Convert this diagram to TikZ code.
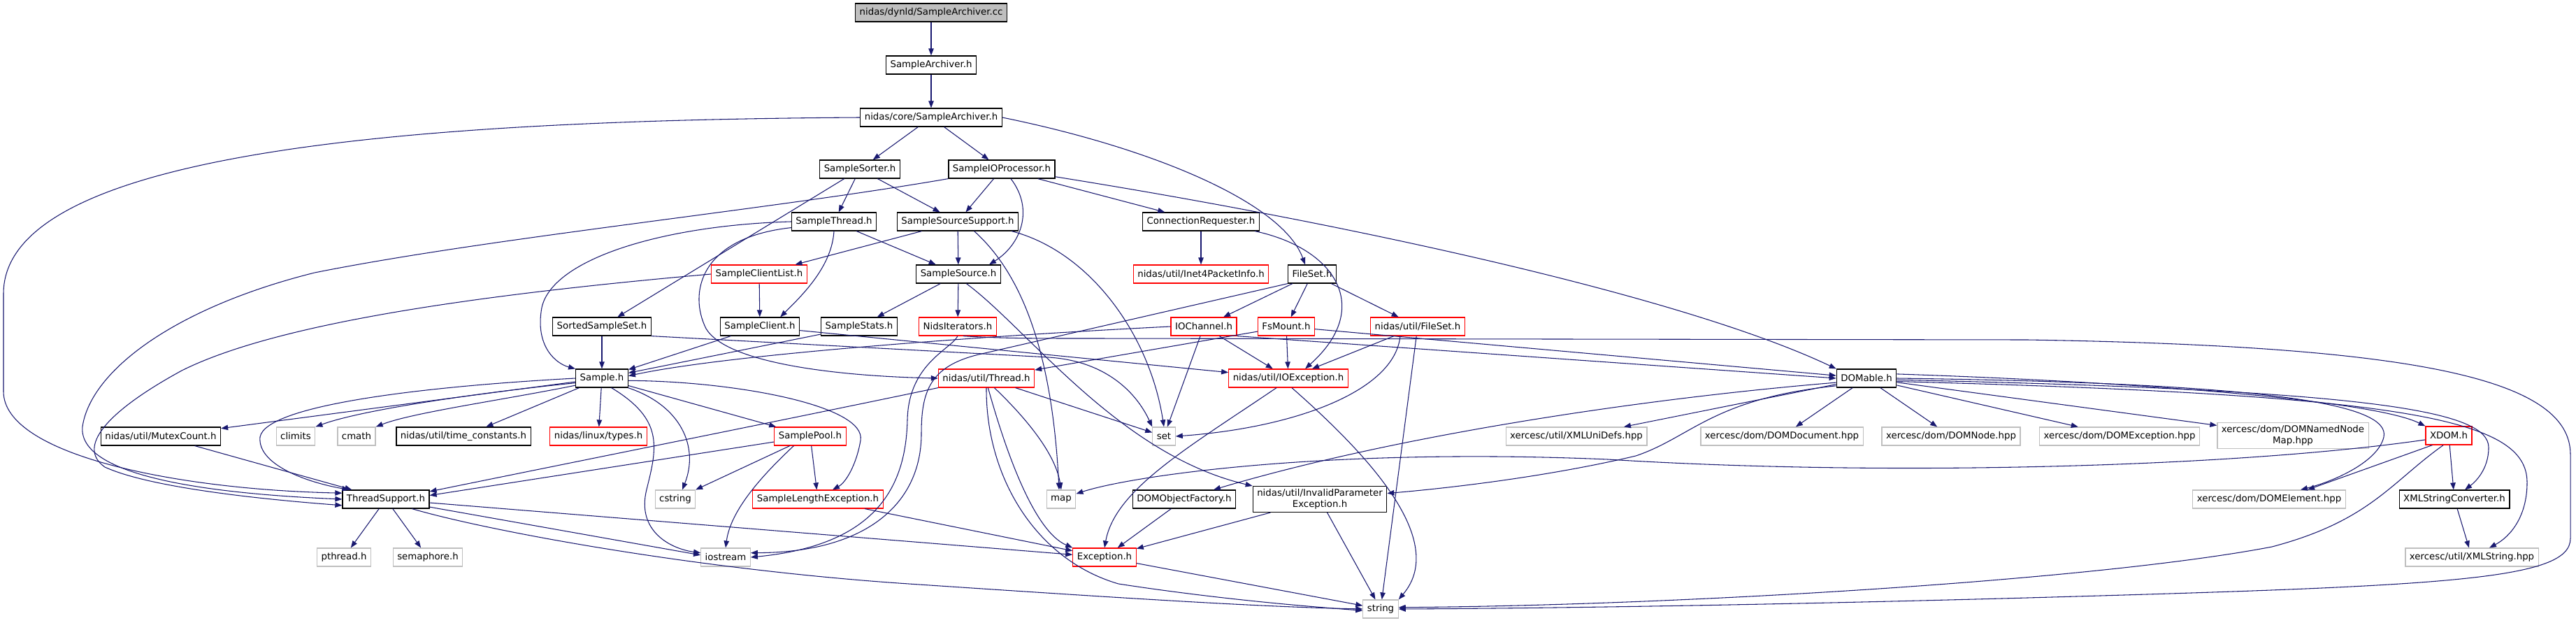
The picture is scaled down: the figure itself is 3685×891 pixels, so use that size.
\documentclass[tikz,border=0pt]{standalone}
\usepackage{fontspec}
\setmainfont{DejaVu Sans}
\usetikzlibrary{arrows.meta,calc}
\definecolor{edgeblue}{HTML}{191970}
\definecolor{truncred}{HTML}{FF0000}
\definecolor{extgrey}{HTML}{BFBFBF}
\definecolor{rootgrey}{HTML}{BFBFBF}
\tikzset{
  >={Triangle[length=7.5pt,width=5.6pt]},
  incfile/.style={draw=black, fill=white, line width=0.9pt, inner xsep=4.5pt,
    inner ysep=3pt, minimum height=19.5pt, align=center,
    font=\fontsize{10pt}{12pt}\selectfont},
  rootfile/.style={incfile, fill=rootgrey},
  truncfile/.style={incfile, draw=truncred},
  extfile/.style={incfile, draw=extgrey},
  dep/.style={->, draw=edgeblue, line width=0.8pt}
}

\begin{document}
\begin{tikzpicture}[x=0.75pt,y=-0.75pt]
\useasboundingbox (0,0) rectangle (3685,891);

% ranks 0-5
\node[rootfile] (sacc) at (1332,18) {nidas/dynld/SampleArchiver.cc};
\node[incfile] (sah) at (1332,93) {SampleArchiver.h};
\node[incfile] (coresa) at (1332,168) {nidas/core/SampleArchiver.h};
\node[incfile] (sorter) at (1230,242) {SampleSorter.h};
\node[incfile] (ioproc) at (1433,242) {SampleIOProcessor.h};
\node[incfile] (sthread) at (1193,317) {SampleThread.h};
\node[incfile] (sss) at (1370,317) {SampleSourceSupport.h};
\node[incfile] (connreq) at (1718,317) {ConnectionRequester.h};
\node[truncfile] (scl) at (1086,392) {SampleClientList.h};
\node[incfile] (ssource) at (1371,392) {SampleSource.h};
\node[truncfile] (inet) at (1718,392) {nidas/util/Inet4PacketInfo.h};
\node[incfile] (fileset) at (1877,392) {FileSet.h};

% ranks 6-7
\node[incfile] (sortedss) at (861,467) {SortedSampleSet.h};
\node[incfile] (sclient) at (1087,467) {SampleClient.h};
\node[incfile] (sstats) at (1229,467) {SampleStats.h};
\node[truncfile] (nidsit) at (1370,467) {NidsIterators.h};
\node[truncfile] (iochan) at (1722,467) {IOChannel.h};
\node[truncfile] (fsmount) at (1840,467) {FsMount.h};
\node[truncfile] (ufileset) at (2028,467) {nidas/util/FileSet.h};
\node[incfile] (sample) at (861,541) {Sample.h};
\node[truncfile] (uthread) at (1411,541) {nidas/util/Thread.h};
\node[truncfile] (ioexc) at (1843,541) {nidas/util/IOException.h};
\node[incfile] (domable) at (2670,541) {DOMable.h};

% rank 8
\node[incfile] (mutex) at (230,624) {nidas/util/MutexCount.h};
\node[incfile] (timec) at (663,624) {nidas/util/time\_constants.h};
\node[truncfile] (ltypes) at (856,624) {nidas/linux/types.h};
\node[truncfile] (spool) at (1159,624) {SamplePool.h};
\foreach \x/\name in {423/climits,510/cmath,1665/set}
  \node[extfile] (\name) at (\x,624) {\name};
\node[extfile] (unidefs) at (2255,624) {xercesc/util/XMLUniDefs.hpp};
\node[extfile] (domdoc) at (2549,624) {xercesc/dom/DOMDocument.hpp};
\node[extfile] (domnode) at (2791,624) {xercesc/dom/DOMNode.hpp};
\node[extfile] (domexc) at (3032,624) {xercesc/dom/DOMException.hpp};
\node[extfile] (domnnm) at (3280,623) {xercesc/dom/DOMNamedNode\\Map.hpp};
\node[truncfile] (xdom) at (3503,623) {XDOM.h};

% ranks 9-11
\node[incfile] (tsupport) at (552,714) {ThreadSupport.h};
\node[extfile] (cstring) at (966,714) {cstring};
\node[truncfile] (sle) at (1170,714) {SampleLengthException.h};
\node[extfile] (map) at (1518,714) {map};
\node[incfile] (domof) at (1694,714) {DOMObjectFactory.h};
\node[incfile] (ipe) at (1888,714) {nidas/util/InvalidParameter\\Exception.h};
\node[extfile] (domelem) at (3246,714) {xercesc/dom/DOMElement.hpp};
\node[incfile] (xmlsc) at (3511,714) {XMLStringConverter.h};
\foreach \x/\name/\lab in {492/pthread/pthread.h,612/semaph/semaphore.h,1038/iostream/iostream}
  \node[extfile] (\name) at (\x,797) {\lab};
\node[truncfile] (exc) at (1580,797) {Exception.h};
\node[extfile] (xmlstr) at (3536,797) {xercesc/util/XMLString.hpp};
\node[extfile] (string) at (1975,871) {string};

% straight includes
\foreach \a/\b in {sacc/sah,sah/coresa,coresa/sorter,coresa/ioproc,
  sorter/sortedss,sorter/sthread,sorter/sss,ioproc/sss,ioproc/connreq,
  sthread/ssource,sss/scl,sss/ssource,connreq/inet,scl/sclient,
  ssource/sstats,ssource/nidsit,fileset/iochan,fileset/fsmount,fileset/ufileset,
  sortedss/sample,sclient/sample,sclient/ioexc,sstats/sample,
  iochan/ioexc,iochan/set,fsmount/uthread,fsmount/ioexc,fsmount/domable,
  ufileset/ioexc,ufileset/string,sample/mutex,sample/timec,sample/ltypes,sample/spool,
  uthread/set,mutex/tsupport,spool/cstring,spool/sle,tsupport/pthread,tsupport/semaph,
  tsupport/exc,sle/exc,domof/exc,ipe/exc,ipe/string,exc/string,
  domable/unidefs,domable/domdoc,domable/domnode,domable/domexc,domable/domnnm,xmlsc/xmlstr}
  \draw[dep] (\a) -- (\b);
\draw[dep] (iochan.south east) -- (domable.west);

% upper curves
\draw[dep] (coresa.east) .. controls (1650,212) and (1835,290) .. ($(fileset.north)+(-10,0)$);
\draw[dep] (coresa.west) .. controls (600,172) and (5,215) .. (5,420) -- (5,560)
  .. controls (5,650) and (250,700) .. (tsupport.172);
\draw[dep] (ioproc.south west) .. controls (1100,300) and (700,340) .. (450,390)
  .. controls (250,440) and (130,530) .. (118,610) .. controls (110,690) and (350,708) .. (tsupport.west);
\draw[dep] (scl.west) .. controls (700,420) and (400,460) .. (260,530)
  .. controls (150,590) and (110,640) .. (150,668) .. controls (220,700) and (400,716) .. (tsupport.188);
\draw[dep] (ioproc.-8) .. controls (1900,315) and (2400,420) .. (domable.north west);
\draw[dep] ($(ioproc.south)+(13,0)$) .. controls (1480,300) and (1460,350) .. ($(ssource.north)+(44,0)$);
\draw[dep] (sthread.south) .. controls (1190,380) and (1150,420) .. (sclient.25);
\draw[dep] (sthread.west) .. controls (950,322) and (790,370) .. (775,440)
  .. controls (765,495) and (795,520) .. (sample.north west);
\draw[dep] (sthread.188) .. controls (1000,340) and (985,420) .. (1010,470)
  .. controls (1040,520) and (1200,538) .. (uthread.west);
\draw[dep] (sss.-30) .. controls (1460,390) and (1505,500) .. ($(map.north)+(-3,0)$);
\draw[dep] (sss.-10) .. controls (1560,360) and (1645,480) .. (set.north);
\draw[dep] (connreq.-10) .. controls (1910,355) and (1965,440) .. ($(ioexc.north)+(24,0)$);
\draw[dep] (ssource.-50) .. controls (1470,470) and (1600,650) .. (ipe.north west);
\draw[dep] (fileset.south west) -- (1400,507) .. controls (1330,524) and (1318,560) .. (1318,620)
  .. controls (1318,720) and (1240,790) .. (iostream.10);
\draw[dep] (sortedss.south east) -- (1500,511) .. controls (1580,516) and (1625,560) .. (set.north west);
\draw[dep] (iochan.west) .. controls (1450,478) and (1050,505) .. (sample.5);
\draw[dep] ($(ufileset.south)+(-25,0)$) .. controls (1995,560) and (1850,612) .. (set.east);
\draw[dep] (nidsit.south) .. controls (1360,500) and (1300,520) .. (1298,600)
  .. controls (1296,700) and (1250,780) .. (iostream.east);
\draw[dep] (nidsit.-60) .. controls (1430,484) and (1480,484) .. (1560,484) -- (2900,486)
  .. controls (3450,495) and (3677,540) .. (3677,650) -- (3677,770)
  .. controls (3677,830) and (3500,838) .. (2900,855) .. controls (2500,866) and (2200,870) .. (string.east);

% Sample.h and below
\draw[dep] (sample.190) .. controls (700,560) and (520,585) .. (climits.north east);
\draw[dep] (sample.195) .. controls (720,572) and (590,590) .. (cmath.north east);
\draw[dep] (sample.west) .. controls (600,553) and (380,580) .. (372,625)
  .. controls (368,665) and (440,690) .. ($(tsupport.north west)+(10,0)$);
\draw[dep] (sample.-20) .. controls (975,580) and (1000,640) .. ($(cstring.north)+(10,0)$);
\draw[dep] (sample.-45) .. controls (950,600) and (940,640) .. (925,700)
  .. controls (910,760) and (960,785) .. (iostream.170);
\draw[dep] (sample.-5) .. controls (1050,545) and (1240,580) .. (1231,630)
  .. controls (1225,665) and (1210,690) .. ($(sle.north)+(21,0)$);
\draw[dep] (uthread.south west) .. controls (1150,595) and (800,665) .. (tsupport.10);
\draw[dep] (uthread.-50) .. controls (1470,600) and (1510,650) .. (map.north);
\draw[dep] (uthread.-80) .. controls (1440,650) and (1480,760) .. (exc.north west);
\draw[dep] (uthread.south) .. controls (1410,680) and (1480,800) .. (1600,835)
  .. controls (1750,858) and (1880,868) .. (string.185);
\draw[dep] ($(ioexc.south)+(-17,0)$) .. controls (1700,640) and (1595,700) .. (exc.north);
\draw[dep] (ioexc.-70) .. controls (1945,640) and (2075,770) .. (string.north east);
\draw[dep] (spool) -- (tsupport.5);
\draw[dep] (spool.-150) .. controls (1090,680) and (1045,730) .. (iostream.north);
\draw[dep] (tsupport) -- (iostream.175);
\draw[dep] (tsupport.-20) .. controls (700,760) and (1000,815) .. (1300,835)
  .. controls (1600,855) and (1800,868) .. (string.west);

% DOMable.h fan and XDOM.h
\draw[dep] (domable.8) .. controls (3100,548) and (3400,575) .. (xdom.north west);
\draw[dep] (domable.east) .. controls (3250,548) and (3420,578) .. (3410,625)
  .. controls (3402,660) and (3340,688) .. ($(domelem.north)+(45,0)$);
\draw[dep] (domable.-3) .. controls (3400,558) and (3560,588) .. (3560,640)
  .. controls (3560,672) and (3540,690) .. ($(xmlsc.north)+(15,0)$);
\draw[dep] (domable.-6) .. controls (3450,565) and (3615,600) .. (3615,690)
  .. controls (3615,740) and (3590,768) .. ($(xmlstr.north)+(25,0)$);
\draw[dep] (domable.188) .. controls (2350,570) and (2000,622) .. ($(domof.north)+(42,0)$);
\draw[dep] (domable.194) .. controls (2450,570) and (2420,625) .. (2340,652)
  .. controls (2200,685) and (2050,700) .. (ipe.5);
\draw[dep] (xdom.-150) -- ($(domelem.north)+(55,0)$);
\draw[dep] (xdom) -- (xmlsc);
\draw[dep] (xdom.-120) .. controls (3420,690) and (3390,745) .. (3250,782)
  .. controls (3000,830) and (2400,866) .. (string.5);
\draw[dep] (xdom.190) .. controls (3200,668) and (2700,682) .. (2300,657)
  .. controls (1900,640) and (1620,680) .. (map.20);
\end{tikzpicture}
\end{document}
